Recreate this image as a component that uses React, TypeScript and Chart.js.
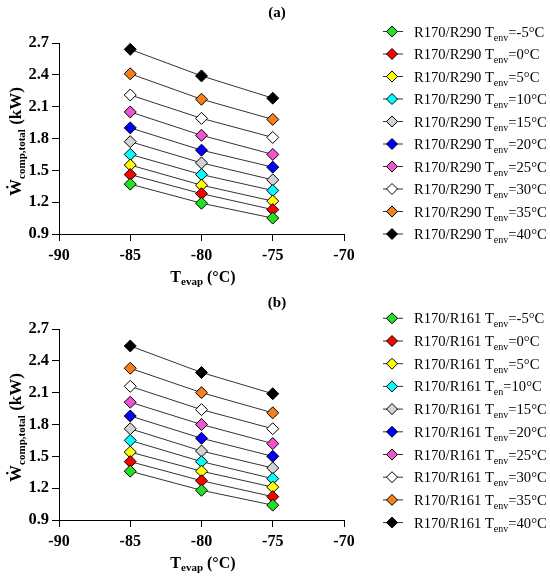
import React, { useEffect, useRef } from "react";
import { Chart, registerables } from "chart.js";

Chart.register(...registerables);

const FONT = '"Liberation Serif", "Times New Roman", serif';

// evaporation temperatures (x)
const evapTemps = [-85, -80, -75];

// ambient temperatures of the series and their marker colours
const envTemps = ["-5", "0", "5", "10", "15", "20", "25", "30", "35", "40"];
const seriesColors = [
  "#22e022",
  "#ff0000",
  "#ffff00",
  "#00ffff",
  "#d3d3d3",
  "#0000ff",
  "#f055d0",
  "#ffffff",
  "#f5801a",
  "#000000",
];

// (a) R170/R290 total compressor power, kW
const r290Power = [
  [1.37, 1.19, 1.05],
  [1.46, 1.28, 1.13],
  [1.55, 1.36, 1.21],
  [1.65, 1.46, 1.31],
  [1.77, 1.57, 1.41],
  [1.9, 1.69, 1.53],
  [2.05, 1.83, 1.65],
  [2.21, 1.99, 1.81],
  [2.41, 2.17, 1.98],
  [2.64, 2.39, 2.18],
];

// (b) R170/R161 total compressor power, kW
const r161Power = [
  [1.36, 1.18, 1.04],
  [1.45, 1.27, 1.12],
  [1.54, 1.36, 1.21],
  [1.65, 1.45, 1.29],
  [1.76, 1.55, 1.39],
  [1.88, 1.67, 1.5],
  [2.01, 1.8, 1.62],
  [2.16, 1.94, 1.76],
  [2.33, 2.1, 1.91],
  [2.54, 2.29, 2.09],
];

// legend subscripts (the original has one "Ten" typo in panel b)
const r290Subs = ["env", "env", "env", "env", "env", "env", "env", "env", "env", "env"];
const r161Subs = ["env", "env", "env", "en", "env", "env", "env", "env", "env", "env"];

type Part = { t: string; sub?: boolean };

function drawParts(
  ctx: CanvasRenderingContext2D,
  parts: Part[],
  x: number,
  y: number,
  size: number,
  subSize: number,
  subDrop: number,
  bold: boolean,
  align: "left" | "center"
) {
  const w = bold ? "bold " : "";
  let total = 0;
  for (const p of parts) {
    ctx.font = `${w}${p.sub ? subSize : size}px ${FONT}`;
    total += ctx.measureText(p.t).width;
  }
  let cx = align === "center" ? x - total / 2 : x;
  ctx.textAlign = "left";
  ctx.textBaseline = "alphabetic";
  for (const p of parts) {
    ctx.font = `${w}${p.sub ? subSize : size}px ${FONT}`;
    ctx.fillText(p.t, cx, p.sub ? y + subDrop : y);
    cx += ctx.measureText(p.t).width;
  }
}

type PanelProps = {
  height: number;
  tag: string;
  tagBase: number;
  top: number;
  bottom: number;
  xTitleBase: number;
  legendTop: number;
  legendStep: number;
  pair: string;
  values: number[][];
  subs: string[];
};

const Panel = (props: PanelProps) => {
  const chartRef = useRef<HTMLCanvasElement | null>(null);
  const chartInstance = useRef<Chart | null>(null);

  useEffect(() => {
    if (chartInstance.current) chartInstance.current.destroy();
    const ctx = chartRef.current?.getContext("2d");
    if (!ctx) return;

    const decor = {
      id: "decor",
      afterDraw(chart: Chart) {
        const c = chart.ctx;
        const area = chart.chartArea;
        c.save();
        c.fillStyle = "#000";

        // panel tag
        drawParts(c, [{ t: props.tag }], 277, props.tagBase, 15, 10, 0, true, "center");

        // x title
        drawParts(
          c,
          [{ t: "T" }, { t: "evap", sub: true }, { t: " (°C)" }],
          203,
          props.xTitleBase,
          16,
          11,
          3,
          true,
          "center"
        );

        // y title
        c.save();
        c.translate(15, (area.top + area.bottom) / 2 + 3);
        c.rotate(-Math.PI / 2);
        drawParts(
          c,
          [{ t: "Ẇ" }, { t: "comp,total", sub: true }, { t: " (kW)" }],
          0,
          6,
          17,
          11,
          4,
          true,
          "center"
        );
        c.restore();

        // legend
        chart.data.datasets.forEach((ds: any, i: number) => {
          const y = props.legendTop + props.legendStep * i;
          c.strokeStyle = "#333";
          c.lineWidth = 1;
          c.beginPath();
          c.moveTo(383, y);
          c.lineTo(403, y);
          c.stroke();
          const r = 5.5;
          c.beginPath();
          c.moveTo(392, y - r);
          c.lineTo(392 + r, y);
          c.lineTo(392, y + r);
          c.lineTo(392 - r, y);
          c.closePath();
          c.fillStyle = ds.pointBackgroundColor;
          c.fill();
          c.strokeStyle = "#000";
          c.stroke();
          c.fillStyle = "#000";
          drawParts(
            c,
            [
              { t: `${props.pair} T` },
              { t: props.subs[i], sub: true },
              { t: `=${envTemps[i]}°C` },
            ],
            414,
            y + 5,
            14.6,
            10,
            4,
            false,
            "left"
          );
        });
        c.restore();
      },
    };

    chartInstance.current = new Chart(ctx, {
      type: "line",
      data: {
        datasets: props.values.map((row, i) => ({
          label: `${props.pair} Tenv=${envTemps[i]}°C`,
          data: row.map((v, j) => ({ x: evapTemps[j], y: v })),
          borderColor: "#333",
          borderWidth: 1,
          pointStyle: "rectRot",
          pointRadius: 6,
          pointBackgroundColor: seriesColors[i],
          pointBorderColor: "#000",
          pointBorderWidth: 1,
          fill: false,
        })),
      },
      options: {
        animation: false,
        responsive: false,
        devicePixelRatio: 1,
        layout: { padding: { left: 0, right: 550 - 344, top: props.top, bottom: 0 } },
        plugins: {
          legend: { display: false },
          tooltip: { enabled: false },
          title: { display: false },
        },
        scales: {
          x: {
            type: "linear",
            min: -90,
            max: -70,
            afterFit: (scale: any) => {
              scale.height = props.height - props.bottom;
            },
            border: { display: true, color: "#000", width: 1 },
            grid: {
              display: true,
              drawOnChartArea: false,
              drawTicks: true,
              tickLength: 7,
              color: "#000",
            },
            ticks: {
              stepSize: 5,
              color: "#000",
              padding: 5,
              font: { family: FONT, size: 16, weight: "bold" },
            },
          },
          y: {
            min: 0.9,
            max: 2.7,
            afterFit: (scale: any) => {
              scale.width = 59;
            },
            border: { display: true, color: "#000", width: 1 },
            grid: {
              display: true,
              drawOnChartArea: false,
              drawTicks: true,
              tickLength: 7,
              color: "#000",
            },
            ticks: {
              stepSize: 0.3,
              color: "#000",
              padding: 3,
              font: { family: FONT, size: 16.5, weight: "bold" },
              callback: (v: any) => Number(v).toFixed(1),
            },
          },
        },
      },
      plugins: [decor],
    });

    return () => {
      if (chartInstance.current) chartInstance.current.destroy();
    };
  }, []);

  return <canvas ref={chartRef} width={550} height={props.height} style={{ display: "block" }} />;
};

const App = () => {
  useEffect(() => {
    document.body.style.margin = "0";
    document.body.style.background = "#fff";
  }, []);

  return (
    <div style={{ width: 550, height: 577, background: "#fff" }}>
      <Panel
        height={290}
        tag="(a)"
        tagBase={17}
        top={43}
        bottom={234}
        xTitleBase={282}
        legendTop={31.5}
        legendStep={22.5}
        pair="R170/R290"
        values={r290Power}
        subs={r290Subs}
      />
      <Panel
        height={287}
        tag="(b)"
        tagBase={17}
        top={39}
        bottom={230}
        xTitleBase={278}
        legendTop={28.3}
        legendStep={22.7}
        pair="R170/R161"
        values={r161Power}
        subs={r161Subs}
      />
    </div>
  );
};

export default App;
